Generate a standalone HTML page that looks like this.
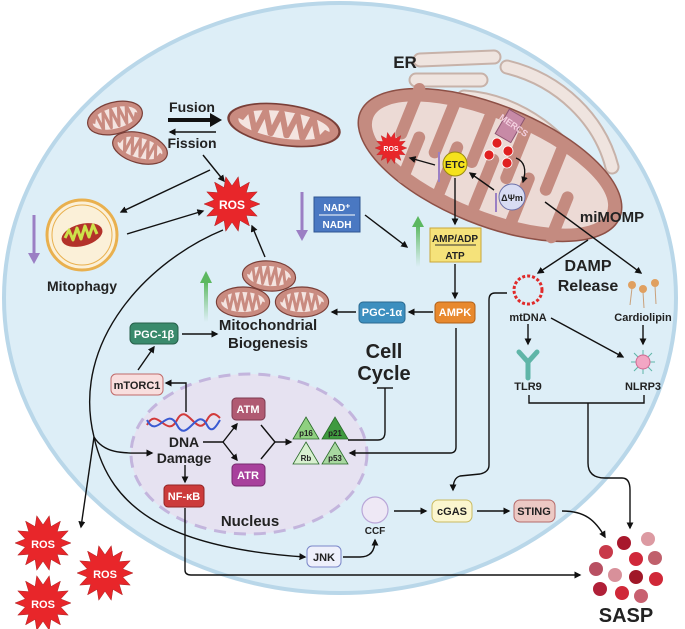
<!DOCTYPE html>
<html><head><meta charset="utf-8"><style>
html,body{margin:0;padding:0;background:#fff}
svg{display:block;font-family:"Liberation Sans",Arial,sans-serif;font-weight:bold}
</style></head><body>
<svg width="685" height="629" viewBox="0 0 685 629" xmlns="http://www.w3.org/2000/svg">
<defs>
<marker id="ah" viewBox="0 0 10 10" refX="8" refY="5" markerWidth="5" markerHeight="5" orient="auto-start-reverse"><path d="M0,0 L10,5 L0,10 z" fill="#111"/></marker>
<linearGradient id="gg" x1="0" y1="1" x2="0" y2="0"><stop offset="0" stop-color="#6cc070" stop-opacity="0"/><stop offset="1" stop-color="#5cb860"/></linearGradient>
<polygon id="star" points="10,0 6.34,1.45 9.01,4.34 5.08,4.05 6.23,7.82 2.82,5.86 2.23,9.75 0,6.5 -2.23,9.75 -2.82,5.86 -6.23,7.82 -5.08,4.05 -9.01,4.34 -6.34,1.45 -10,0 -6.34,-1.45 -9.01,-4.34 -5.08,-4.05 -6.23,-7.82 -2.82,-5.86 -2.23,-9.75 0,-6.5 2.23,-9.75 2.82,-5.86 6.23,-7.82 5.08,-4.05 9.01,-4.34 6.34,-1.45" fill="#e8262a" stroke="#9c1414" stroke-width="0.15"/>
<g id="mito">
<ellipse rx="28" ry="15" fill="#c98b80" stroke="#7a3f38" stroke-width="1.2"/>
<ellipse rx="23" ry="10" fill="#f4e4e0"/>
<path d="M-22,0 L-18,-9 L-14,8 L-10,-9 L-6,8 L-2,-9 L2,8 L6,-9 L10,8 L14,-9 L18,8 L22,0" fill="none" stroke="#c98b80" stroke-width="3" stroke-linejoin="round"/>
</g>
</defs>

<!-- cell -->
<ellipse cx="340" cy="298" rx="336" ry="295" fill="#ddeef7" stroke="#b9d7e9" stroke-width="4"/>

<!-- ER -->
<g fill="none" stroke-linecap="round">
<g stroke="#c7b2a9" stroke-width="15">
<path d="M420,60 L494,57 M416,80 L481,80 M507,67 C560,80 600,120 612,167 M464,97 C520,100 570,140 590,185"/>
</g>
<g stroke="#efe4df" stroke-width="11">
<path d="M420,60 L494,57 M416,80 L481,80 M507,67 C560,80 600,120 612,167 M464,97 C520,100 570,140 590,185"/>
</g>
</g>
<text x="405" y="68" font-size="17" text-anchor="middle" fill="#222">ER</text>

<!-- big mito -->
<g transform="translate(490,165) rotate(22)">
<ellipse rx="140" ry="60" fill="#c48b80" stroke="#8d5046" stroke-width="1.5"/>
<ellipse rx="126" ry="46" fill="#ecdad5"/>
<g fill="#c48b80">
<rect x="-100" y="-50" width="12" height="60" rx="6"/>
<rect x="-62" y="-50" width="12" height="65" rx="6"/>
<rect x="-24" y="-50" width="12" height="60" rx="6"/>
<rect x="14" y="-50" width="12" height="62" rx="6"/>
<rect x="55" y="-50" width="12" height="58" rx="6"/>
<rect x="-82" y="-5" width="12" height="55" rx="6"/>
<rect x="-43" y="-10" width="12" height="60" rx="6"/>
<rect x="-5" y="-12" width="12" height="62" rx="6"/>
<rect x="35" y="-8" width="12" height="58" rx="6"/>
<rect x="78" y="-5" width="12" height="55" rx="6"/>
</g>
</g>
<g transform="translate(510,126) rotate(30)"><rect x="-9" y="-14" width="18" height="28" fill="#c78aa6" stroke="#8e5572"/></g>
<text x="512" y="128" font-size="9" fill="#f4d0e0" transform="rotate(35 512 128)" text-anchor="middle">MERCS</text>
<g fill="#e02020" stroke="#fff" stroke-width="0.8">
<circle cx="497" cy="143" r="5"/><circle cx="508" cy="151" r="5"/><circle cx="489" cy="155" r="5"/><circle cx="507" cy="163" r="5"/>
</g>
<path d="M516,158 C526,162 526,172 523,182" fill="none" stroke="#111" stroke-width="1.3" marker-end="url(#ah)"/>
<use href="#star" transform="translate(391,148) scale(1.6)"/>
<text x="391" y="151" font-size="7" fill="#fff" text-anchor="middle">ROS</text>
<circle cx="455" cy="164" r="12" fill="#f5e21d" stroke="#9a8a10"/>
<text x="455" y="168" font-size="10" text-anchor="middle" fill="#222">ETC</text>
<circle cx="512" cy="197" r="13" fill="#d8dcf3" stroke="#6b6fa8"/>
<text x="512" y="201" font-size="9" text-anchor="middle" fill="#222">ΔΨm</text>
<g stroke="#9b7fc4" stroke-width="2"><line x1="439" y1="152" x2="439" y2="182"/><line x1="496" y1="193" x2="496" y2="212"/></g>
<g stroke="#111" stroke-width="1.4" fill="none" marker-end="url(#ah)">
<line x1="435" y1="165" x2="410" y2="158"/>
<line x1="494" y1="190" x2="470" y2="173"/>
<line x1="455" y1="178" x2="455" y2="224"/>
<line x1="455" y1="264" x2="455" y2="298"/>
</g>
<text x="612" y="222" font-size="15" text-anchor="middle" fill="#222">miMOMP</text>
<g stroke="#111" stroke-width="1.4" fill="none" marker-end="url(#ah)">
<line x1="545" y1="202" x2="641" y2="273"/>
<line x1="588" y1="240" x2="538" y2="273"/>
</g>
<text x="588" y="271" font-size="16" text-anchor="middle" fill="#222">DAMP</text>
<text x="588" y="291" font-size="16" text-anchor="middle" fill="#222">Release</text>

<!-- mtDNA ring -->
<circle cx="528" cy="290" r="14" fill="none" stroke="#e02a2a" stroke-width="3" stroke-dasharray="3 2"/>
<g stroke="#c9a07a" stroke-width="1"><line x1="632" y1="288" x2="630" y2="305"/><line x1="643" y1="292" x2="644" y2="308"/><line x1="655" y1="286" x2="656" y2="304"/></g>
<g fill="#e0a060"><circle cx="632" cy="285" r="4"/><circle cx="643" cy="289" r="4"/><circle cx="655" cy="283" r="4"/></g>
<text x="528" y="321" font-size="11" text-anchor="middle" fill="#222">mtDNA</text>
<text x="643" y="321" font-size="11" text-anchor="middle" fill="#222">Cardiolipin</text>
<g stroke="#111" stroke-width="1.4" fill="none" marker-end="url(#ah)">
<line x1="528" y1="324" x2="528" y2="344"/>
<line x1="551" y1="318" x2="623" y2="357"/>
<line x1="643" y1="325" x2="643" y2="344"/>
<path d="M507,293 L495,293 Q489,293 489,300 L489,465 Q489,472 480,474 L460,476 Q453,478 453,490"/>
<path d="M588,403 L588,463 Q588,478 605,478 L622,478 Q630,478 630,490 L630,528"/>
</g>
<path d="M519,352 L528,362 L537,352 M528,362 L528,378" fill="none" stroke="#5fb5a8" stroke-width="5" stroke-linecap="round"/>
<text x="528" y="390" font-size="11" text-anchor="middle" fill="#222">TLR9</text>
<g stroke="#5fb5a8" stroke-width="1"><line x1="631" y1="362" x2="655" y2="362"/><line x1="643" y1="350" x2="643" y2="374"/><line x1="634" y1="353" x2="652" y2="371"/><line x1="652" y1="353" x2="634" y2="371"/></g>
<circle cx="643" cy="362" r="7" fill="#f2a6c4" stroke="#d06a92"/>
<text x="643" y="390" font-size="11" text-anchor="middle" fill="#222">NLRP3</text>
<path d="M529,395 L529,403 L644,403 L644,395" fill="none" stroke="#111" stroke-width="1.4"/>

<!-- left mitos -->
<use href="#mito" transform="translate(115,118) rotate(-15) scale(1,1.05)"/>
<use href="#mito" transform="translate(140,148) rotate(15)"/>
<use href="#mito" transform="translate(284,125) rotate(8) scale(2,1.35)"/>
<text x="192" y="112" font-size="14" text-anchor="middle" fill="#222">Fusion</text>
<text x="192" y="148" font-size="14" text-anchor="middle" fill="#222">Fission</text>
<line x1="168" y1="120" x2="212" y2="120" stroke="#111" stroke-width="4"/>
<path d="M210,113 L222,120 L210,127 z" fill="#111"/>
<line x1="216" y1="132" x2="170" y2="132" stroke="#111" stroke-width="1.4" marker-end="url(#ah)"/>

<use href="#star" transform="translate(232,204) scale(2.8)"/>
<text x="232" y="209" font-size="12" fill="#fff" text-anchor="middle">ROS</text>

<!-- mitophagy -->
<circle cx="82" cy="235" r="35" fill="#fbf0d8" stroke="#e9b04e" stroke-width="3"/>
<circle cx="82" cy="235" r="30" fill="none" stroke="#e9b04e" stroke-width="1"/>
<ellipse cx="82" cy="235" rx="21" ry="11" fill="#b3322a" transform="rotate(-15 82 235)"/>
<path d="M65,238 L69,230 L73,240 L77,228 L81,239 L85,226 L89,237 L93,225 L97,234" fill="none" stroke="#cde24a" stroke-width="3" stroke-linejoin="round"/>
<text x="82" y="291" font-size="14" text-anchor="middle" fill="#222">Mitophagy</text>
<line x1="34" y1="215" x2="34" y2="256" stroke="#9b7fc4" stroke-width="3"/>
<path d="M28,253 L34,264 L40,253 z" fill="#9b7fc4"/>

<g stroke="#111" stroke-width="1.4" fill="none" marker-end="url(#ah)">
<line x1="203" y1="155" x2="224" y2="181"/>
<line x1="210" y1="170" x2="121" y2="212"/>
<line x1="127" y1="234" x2="203" y2="211"/>
<line x1="265" y1="257" x2="252" y2="226"/>
</g>

<!-- NAD -->
<line x1="302" y1="192" x2="302" y2="232" stroke="#9b7fc4" stroke-width="3"/>
<path d="M296,230 L302,241 L308,230 z" fill="#9b7fc4"/>
<rect x="314" y="197" width="46" height="35" fill="#4a78c2" stroke="#2f5592"/>
<line x1="319" y1="215" x2="355" y2="215" stroke="#fff" stroke-width="1"/>
<text x="337" y="211" font-size="10" text-anchor="middle" fill="#fff">NAD⁺</text>
<text x="337" y="228" font-size="10" text-anchor="middle" fill="#fff">NADH</text>
<line x1="365" y1="215" x2="407" y2="247" stroke="#111" stroke-width="1.4" marker-end="url(#ah)"/>
<rect x="416" y="225" width="4" height="42" fill="url(#gg)"/>
<path d="M412,227 L418,216 L424,227 z" fill="#5cb860"/>
<rect x="430" y="228" width="51" height="34" fill="#f5e27a" stroke="#c9a53a"/>
<line x1="435" y1="245" x2="476" y2="245" stroke="#333" stroke-width="1"/>
<text x="455" y="242" font-size="10" text-anchor="middle" fill="#222">AMP/ADP</text>
<text x="455" y="259" font-size="10" text-anchor="middle" fill="#222">ATP</text>

<!-- biogenesis -->
<use href="#mito" transform="translate(269,276) rotate(5) scale(0.95,1)"/>
<use href="#mito" transform="translate(243,302) scale(0.95,1)"/>
<use href="#mito" transform="translate(302,302) scale(0.95,1)"/>
<rect x="204" y="282" width="4" height="40" fill="url(#gg)"/>
<path d="M200,283 L206,271 L212,283 z" fill="#5cb860"/>
<text x="268" y="330" font-size="15" text-anchor="middle" fill="#222">Mitochondrial</text>
<text x="268" y="348" font-size="15" text-anchor="middle" fill="#222">Biogenesis</text>
<rect x="359" y="302" width="46" height="21" rx="4" fill="#3d8fbf" stroke="#2a6a90"/>
<text x="382" y="316" font-size="11" text-anchor="middle" fill="#fff">PGC-1α</text>
<rect x="435" y="302" width="40" height="21" rx="4" fill="#e8892e" stroke="#b06018"/>
<text x="455" y="316" font-size="11" text-anchor="middle" fill="#fff">AMPK</text>
<rect x="130" y="323" width="48" height="21" rx="5" fill="#3a8a6c" stroke="#26604a"/>
<text x="154" y="338" font-size="11" text-anchor="middle" fill="#fff">PGC-1β</text>
<rect x="111" y="374" width="52" height="21" rx="5" fill="#f8dede" stroke="#c06a6a"/>
<text x="137" y="389" font-size="11" text-anchor="middle" fill="#222">mTORC1</text>
<g stroke="#111" stroke-width="1.4" fill="none" marker-end="url(#ah)">
<line x1="433" y1="312" x2="409" y2="312"/>
<line x1="356" y1="312" x2="332" y2="312"/>
<line x1="182" y1="334" x2="217" y2="334"/>
<line x1="138" y1="370" x2="154" y2="347"/>
</g>

<text x="384" y="358" font-size="20" text-anchor="middle" fill="#222">Cell</text>
<text x="384" y="380" font-size="20" text-anchor="middle" fill="#222">Cycle</text>

<!-- nucleus -->
<ellipse cx="249" cy="454" rx="118" ry="80" fill="#e6e2f1" stroke="#c3b5dd" stroke-width="3" stroke-dasharray="12 8"/>
<path d="M147,425 C157,405 167,440 177,420 C187,400 197,440 207,420 C212,410 217,415 220,418" fill="none" stroke="#d23a3a" stroke-width="2"/>
<path d="M147,420 C157,440 167,405 177,425 C187,445 197,405 207,425 C212,435 217,425 220,420" fill="none" stroke="#3a5ad2" stroke-width="2"/>
<text x="184" y="447" font-size="14" text-anchor="middle" fill="#222">DNA</text>
<text x="184" y="463" font-size="14" text-anchor="middle" fill="#222">Damage</text>
<rect x="232" y="398" width="33" height="22" rx="4" fill="#b05a72" stroke="#7d3a50"/>
<text x="248" y="413" font-size="11" text-anchor="middle" fill="#fff">ATM</text>
<rect x="232" y="464" width="33" height="22" rx="4" fill="#a8409c" stroke="#762a6e"/>
<text x="248" y="479" font-size="11" text-anchor="middle" fill="#fff">ATR</text>
<rect x="164" y="485" width="40" height="22" rx="4" fill="#cc3b3b" stroke="#922424"/>
<text x="184" y="500" font-size="11" text-anchor="middle" fill="#fff">NF-κB</text>
<text x="250" y="526" font-size="15" text-anchor="middle" fill="#222">Nucleus</text>
<g stroke="#2a6a2a" stroke-width="0.8">
<polygon points="306,417 319,439 293,439" fill="#8fd080"/>
<polygon points="335,417 348,439 322,439" fill="#3f9a3f"/>
<polygon points="306,442 319,464 293,464" fill="#d8f0d0"/>
<polygon points="335,442 348,464 322,464" fill="#a8d8a0"/>
</g>
<g font-size="8" text-anchor="middle" fill="#222"><text x="306" y="436">p16</text><text x="335" y="436">p21</text><text x="306" y="461">Rb</text><text x="335" y="461">p53</text></g>
<g stroke="#111" stroke-width="1.4" fill="none">
<path d="M186,412 L186,383 L166,383" marker-end="url(#ah)"/>
<path d="M203,442 L223,442"/>
<path d="M223,442 L237,424" marker-end="url(#ah)"/>
<path d="M223,442 L237,460" marker-end="url(#ah)"/>
<path d="M261,425 L275,442 L261,459"/>
<path d="M275,442 L291,442" marker-end="url(#ah)"/>
<path d="M185,465 L185,482" marker-end="url(#ah)"/>
<path d="M348,440 L378,440 Q385,440 385,432 L385,388"/>
<path d="M377,388 L393,388"/>
<path d="M456,328 L456,447 Q456,453 450,453 L350,453" marker-end="url(#ah)"/>
<path d="M223,230 C150,260 70,340 94,437"/>
<path d="M94,437 C105,455 125,453 152,453" marker-end="url(#ah)"/>
<path d="M94,437 L81,527" marker-end="url(#ah)"/>
<path d="M94,437 C110,510 170,548 305,557" marker-end="url(#ah)"/>
<path d="M185,508 L185,570 Q185,575 191,575 L580,575" marker-end="url(#ah)"/>
<path d="M343,557 L360,557 Q375,557 375,540" marker-end="url(#ah)"/>
<path d="M394,511 L426,511" marker-end="url(#ah)"/>
<path d="M477,511 L509,511" marker-end="url(#ah)"/>
<path d="M562,511 C585,511 595,520 605,537" marker-end="url(#ah)"/>
</g>

<rect x="307" y="546" width="34" height="21" rx="5" fill="#eef0fb" stroke="#7a86c8"/>
<text x="324" y="561" font-size="11" text-anchor="middle" fill="#222">JNK</text>
<circle cx="375" cy="510" r="13" fill="#eee8f5" stroke="#b9a6d8" stroke-width="1.2"/>
<text x="375" y="534" font-size="10" text-anchor="middle" fill="#222">CCF</text>
<rect x="432" y="500" width="40" height="22" rx="6" fill="#fbf6cf" stroke="#c9bb60"/>
<text x="452" y="515" font-size="11" text-anchor="middle" fill="#222">cGAS</text>
<rect x="514" y="500" width="41" height="22" rx="6" fill="#ecc9c4" stroke="#b56a6a"/>
<text x="534" y="515" font-size="11" text-anchor="middle" fill="#222">STING</text>

<!-- SASP -->
<g>
<circle cx="648" cy="539" r="7" fill="#dc9aa2"/><circle cx="624" cy="543" r="7" fill="#a8182c"/><circle cx="606" cy="552" r="7" fill="#c83a4a"/>
<circle cx="636" cy="559" r="7" fill="#d0283a"/><circle cx="655" cy="558" r="7" fill="#c0606c"/><circle cx="596" cy="569" r="7" fill="#b85062"/>
<circle cx="615" cy="575" r="7" fill="#d8909a"/><circle cx="636" cy="577" r="7" fill="#a01828"/><circle cx="656" cy="579" r="7" fill="#d02838"/>
<circle cx="600" cy="589" r="7" fill="#b02038"/><circle cx="622" cy="593" r="7" fill="#d02838"/><circle cx="641" cy="596" r="7" fill="#c86070"/>
</g>
<text x="626" y="622" font-size="20" text-anchor="middle" fill="#222">SASP</text>

<!-- outside ROS -->
<use href="#star" transform="translate(43,543) scale(2.8)"/>
<text x="43" y="548" font-size="11" fill="#fff" text-anchor="middle">ROS</text>
<use href="#star" transform="translate(105,573) scale(2.8)"/>
<text x="105" y="578" font-size="11" fill="#fff" text-anchor="middle">ROS</text>
<use href="#star" transform="translate(43,603) scale(2.8)"/>
<text x="43" y="608" font-size="11" fill="#fff" text-anchor="middle">ROS</text>
</svg>
</body></html>
